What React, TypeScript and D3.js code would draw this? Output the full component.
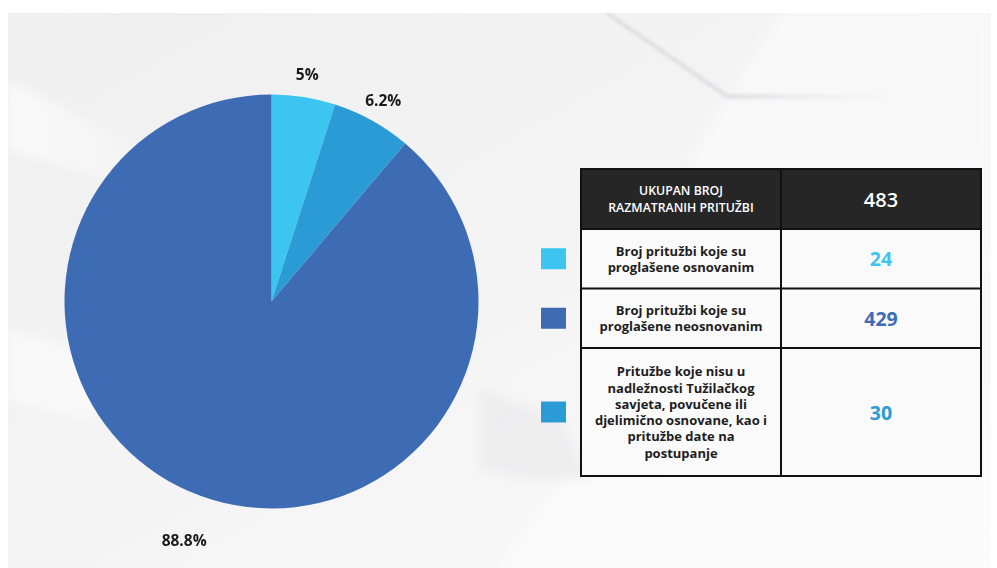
import React from "react";
import * as d3 from "d3";

// pie order, clockwise from 12 o'clock
const sliceKeys = ["osnovane", "ostale", "neosnovane"];
const sliceValues = [24, 30, 429];
const sliceLabels = ["5%", "6.2%", "88.8%"];
const sliceColors = ["#3bc5f0", "#2b9bd6", "#3e6cb4"];

// table rows
const totalLabel = ["UKUPAN BROJ", "RAZMATRANIH PRITUŽBI"];
const totalValue = 483;
const rowKeys = ["osnovane", "neosnovane", "ostale"];
const rowLabels = [
  ["Broj pritužbi koje su", "proglašene osnovanim"],
  ["Broj pritužbi koje su", "proglašene neosnovanim"],
  [
    "Pritužbe koje nisu u",
    "nadležnosti Tužilačkog",
    "savjeta, povučene ili",
    "djelimično osnovane, kao i",
    "pritužbe date na",
    "postupanje",
  ],
];
const rowValues = [24, 429, 30];

const W = 997;
const H = 568;
const FONT = "'Open Sans', 'Noto Sans', sans-serif";

export default function App() {
  const cx = 271.5;
  const cy = 301.5;
  const r = 207;

  const pie = d3.pie<number>().sort(null).value((d) => d);
  const arcs = pie(sliceValues);
  const arc = d3.arc<d3.PieArcDatum<number>>().innerRadius(0).outerRadius(r);
  const labelArc = d3.arc<d3.PieArcDatum<number>>().innerRadius(230).outerRadius(230);
  const farLabelArc = d3.arc<d3.PieArcDatum<number>>().innerRadius(254).outerRadius(254);

  const color = d3.scaleOrdinal<string, string>().domain(sliceKeys).range(sliceColors);

  // table geometry
  const tx0 = 581;
  const tx1 = 781;
  const tx2 = 981;
  const rowY = [169, 229, 288.5, 348, 476];
  const lineH = 16.3;

  return (
    <svg width={W} height={H} style={{ position: "absolute", left: 0, top: 0 }}>
      <defs>
        <linearGradient id="bg" x1="0" y1="0" x2="1" y2="1">
          <stop offset="0" stopColor="#efeff0" />
          <stop offset="0.5" stopColor="#f4f4f5" />
          <stop offset="1" stopColor="#fbfbfb" />
        </linearGradient>
        <linearGradient id="shade" x1="0" y1="0" x2="1" y2="0">
          <stop offset="0" stopColor="#d6d6d8" stopOpacity="0.9" />
          <stop offset="1" stopColor="#e6e6e8" stopOpacity="0" />
        </linearGradient>
        <linearGradient id="wband" x1="0" y1="0" x2="1" y2="0">
          <stop offset="0" stopColor="#ffffff" stopOpacity="0.9" />
          <stop offset="1" stopColor="#ffffff" stopOpacity="0" />
        </linearGradient>
        <filter id="soft" x="-10%" y="-10%" width="120%" height="120%">
          <feGaussianBlur stdDeviation="6" />
        </filter>
        <filter id="soft2" x="-10%" y="-10%" width="120%" height="120%">
          <feGaussianBlur stdDeviation="1.5" />
        </filter>
        <clipPath id="frame">
          <rect x={8} y={13} width={983} height={H - 13} />
        </clipPath>
      </defs>
      <rect x={0} y={0} width={W} height={H} fill="#ffffff" />
      <g clipPath="url(#frame)">
        <rect x={8} y={13} width={983} height={H - 13} fill="url(#bg)" />
        {/* soft light shapes in the backdrop */}
        <g filter="url(#soft)">
          <polygon points="780,13 991,13 991,290 683,170 727,97" fill="#f8f8f9" opacity={0.9} />
          <polygon points="8,80 150,150 200,210 8,150" fill="url(#wband)" opacity={0.7} />
          <polygon points="8,330 120,360 90,420 8,400" fill="#ffffff" opacity={0.5} />
          <polygon points="480,390 560,420 600,490 480,470" fill="#e6e6e8" opacity={0.5} />
          <polygon points="560,480 991,420 991,568 500,568" fill="#fbfbfb" opacity={0.9} />
        </g>
        <g filter="url(#soft2)">
          <line x1={607} y1={13} x2={728} y2={97} stroke="#d7d7d9" strokeWidth={4} opacity={0.7} />
          <rect x={728} y={94} width={170} height={5} fill="url(#shade)" opacity={0.8} />
        </g>
      </g>

      {/* pie */}
      <g transform={`translate(${cx},${cy})`}>
        {arcs.map((a, i) => (
          <path key={sliceKeys[i]} d={arc(a) || ""} fill={color(sliceKeys[i])} />
        ))}
        {arcs.map((a, i) => {
          const [lx, ly] = (a.value > 100 ? farLabelArc : labelArc).centroid(a);
          return (
            <text
              key={"l" + sliceKeys[i]}
              x={lx}
              y={ly}
              textAnchor="middle"
              dominantBaseline="central"
              fontFamily={FONT}
              fontWeight={700}
              fontSize={15.5}
              fill="#1a1a1a"
            >
              {sliceLabels[i]}
            </text>
          );
        })}
      </g>

      {/* table */}
      <rect x={tx0} y={rowY[0]} width={tx2 - tx0} height={rowY[1] - rowY[0]} fill="#262626" />
      <rect x={tx0} y={rowY[1]} width={tx2 - tx0} height={rowY[4] - rowY[1]} fill="#fafafa" />
      {totalLabel.map((t, j) => (
        <text
          key={"h" + j}
          x={(tx0 + tx1) / 2}
          y={(rowY[0] + rowY[1]) / 2 + (j - (totalLabel.length - 1) / 2) * lineH}
          textAnchor="middle"
          dominantBaseline="central"
          fontFamily={FONT}
          fontWeight={600}
          fontSize={12.3}
          fill="#ffffff"
        >
          {t}
        </text>
      ))}
      <text
        x={(tx1 + tx2) / 2}
        y={(rowY[0] + rowY[1]) / 2}
        textAnchor="middle"
        dominantBaseline="central"
        fontFamily={FONT}
        fontWeight={600}
        fontSize={20}
        fill="#ffffff"
      >
        {totalValue}
      </text>
      {rowKeys.map((k, i) => {
        const yMid = (rowY[i + 1] + rowY[i + 2]) / 2;
        const lines = rowLabels[i];
        return (
          <g key={k}>
            <rect x={541} y={yMid - 10.5} width={25} height={21} fill={color(k)} />
            {lines.map((t, j) => (
              <text
                key={j}
                x={(tx0 + tx1) / 2}
                y={yMid + (j - (lines.length - 1) / 2) * lineH}
                textAnchor="middle"
                dominantBaseline="central"
                fontFamily={FONT}
                fontWeight={700}
                fontSize={13}
                fill="#1e1e1e"
              >
                {t}
              </text>
            ))}
            <text
              x={(tx1 + tx2) / 2}
              y={yMid}
              textAnchor="middle"
              dominantBaseline="central"
              fontFamily={FONT}
              fontWeight={700}
              fontSize={19.5}
              fill={color(k)}
            >
              {rowValues[i]}
            </text>
          </g>
        );
      })}
      {/* grid lines */}
      {rowY.slice(1, 4).map((y, i) => (
        <line key={"hl" + i} x1={tx0} x2={tx2} y1={y} y2={y} stroke="#111" strokeWidth={2} />
      ))}
      <line x1={tx1} x2={tx1} y1={rowY[0]} y2={rowY[4]} stroke="#111" strokeWidth={2} />
      <rect
        x={tx0}
        y={rowY[0]}
        width={tx2 - tx0}
        height={rowY[4] - rowY[0]}
        fill="none"
        stroke="#111"
        strokeWidth={2}
      />
    </svg>
  );
}
